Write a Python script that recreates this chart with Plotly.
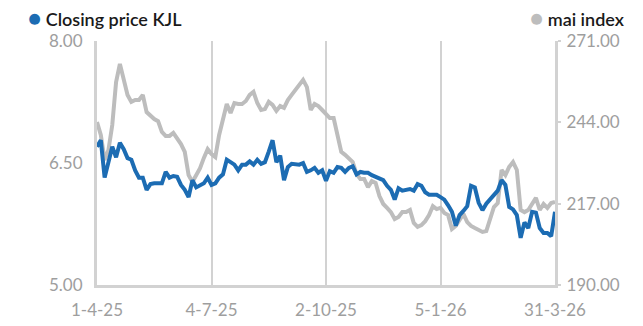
import plotly.graph_objects as go

tick_labels = ["1-4-25", "4-7-25", "2-10-25", "5-1-26", "31-3-26"]
tick_index = [0, 30, 60, 90, 120]

kjl_close = [
    6.70, 6.78, 6.32, 6.49, 6.70, 6.57, 6.75, 6.67, 6.56, 6.54,
    6.41, 6.32, 6.32, 6.17, 6.24, 6.25, 6.25, 6.25, 6.39, 6.32,
    6.34, 6.33, 6.23, 6.17, 6.08, 6.29, 6.20, 6.23, 6.25, 6.32,
    6.23, 6.25, 6.32, 6.36, 6.54, 6.51, 6.48, 6.41, 6.48, 6.48,
    6.52, 6.48, 6.54, 6.49, 6.51, 6.64, 6.78, 6.51, 6.59, 6.29,
    6.45, 6.49, 6.48, 6.48, 6.50, 6.39, 6.41, 6.44, 6.38, 6.41,
    6.28, 6.40, 6.38, 6.45, 6.44, 6.39, 6.44, 6.46, 6.36, 6.39,
    6.38, 6.38, 6.35, 6.33, 6.32, 6.29, 6.22, 6.17, 6.05, 6.19,
    6.16, 6.17, 6.18, 6.16, 6.24, 6.22, 6.14, 6.11, 6.11, 6.11,
    6.08, 6.05, 5.98, 5.90, 5.73, 5.86, 5.91, 5.97, 6.22, 6.20,
    6.01, 5.92, 6.00, 6.05, 6.11, 6.16, 6.29, 6.23, 5.96, 5.93,
    5.86, 5.58, 5.77, 5.70, 5.90, 5.89, 5.70, 5.64, 5.64, 5.60,
    5.90,
]

mai_index = [
    244.1, 239.8, 231.5, 234.8, 243.1, 257.4, 263.4, 258.1, 253.1, 250.8,
    251.4, 251.4, 253.1, 247.4, 246.1, 245.1, 244.4, 240.8, 239.5, 239.5,
    240.5, 238.8, 236.8, 234.2, 226.5, 224.2, 226.2, 228.8, 232.2, 235.1,
    233.5, 232.5, 239.8, 245.1, 250.1, 247.1, 250.4, 250.1, 250.1, 251.1,
    253.1, 254.1, 250.4, 248.1, 248.4, 250.8, 249.8, 247.8, 249.4, 248.8,
    251.4, 253.1, 254.7, 256.1, 258.1, 255.7, 248.1, 250.1, 249.4, 248.1,
    246.8, 245.4, 245.4, 239.8, 234.2, 233.2, 231.8, 230.8, 226.8, 225.2,
    225.2, 222.5, 224.5, 223.9, 219.5, 216.9, 215.6, 214.2, 211.9, 212.6,
    214.2, 214.2, 214.9, 210.6, 209.3, 209.9, 211.2, 213.2, 216.2, 215.2,
    215.6, 213.9, 213.2, 208.6, 209.6, 211.6, 213.6, 210.9, 209.6, 208.9,
    208.3, 207.6, 207.9, 211.6, 215.9, 217.2, 228.2, 226.5, 229.2, 230.8,
    228.2, 214.9, 214.2, 214.9, 217.2, 218.9, 214.9, 216.9, 215.6, 217.2,
    217.6,
]

x_idx = list(range(len(kjl_close)))

BLUE = "#1c6cb3"
GRAY = "#bdbdbd"
LABEL = "#9e9e9e"
AXIS = "#d2d2d2"
FONT = "Lato"

fig = go.Figure()
fig.add_trace(go.Scatter(x=x_idx, y=mai_index, mode="lines", name="mai index",
                         line=dict(color=GRAY, width=4), yaxis="y",
                         hoverinfo="skip"))
fig.add_trace(go.Scatter(x=x_idx, y=kjl_close, mode="lines", name="Closing price KJL",
                         line=dict(color=BLUE, width=4), yaxis="y2",
                         hoverinfo="skip"))

fig.update_layout(
    width=643, height=326,
    margin=dict(l=97, r=88, t=41, b=41, autoexpand=False),
    paper_bgcolor="white", plot_bgcolor="white",
    showlegend=False,
    font=dict(family=FONT, size=17, color=LABEL),
    xaxis=dict(
        range=[0, 120], tickvals=tick_index, ticktext=tick_labels,
        showgrid=True, gridcolor=AXIS, gridwidth=2,
        showline=True, linecolor=AXIS, linewidth=3,
        zeroline=False, ticks="", ticklabelstandoff=8, automargin=False,
        tickfont=dict(family=FONT, size=17, color=LABEL),
    ),
    yaxis=dict(
        side="right", range=[190, 271], tickvals=[190, 217, 244, 271],
        tickformat=".2f", showgrid=False, zeroline=False,
        showline=True, linecolor=AXIS, linewidth=3,
        ticks="outside", ticklen=3, tickcolor=AXIS, tickwidth=2,
        ticklabelstandoff=2, automargin=False,
        tickfont=dict(family=FONT, size=17, color=LABEL),
    ),
    yaxis2=dict(
        side="left", overlaying="y", range=[5, 8], tickvals=[5, 6.5, 8],
        tickformat=".2f", showgrid=False, zeroline=False,
        showline=True, linecolor=AXIS, linewidth=3,
        ticks="", ticklabelstandoff=8, automargin=False,
        tickfont=dict(family=FONT, size=17, color=LABEL),
    ),
    annotations=[
        dict(xref="paper", yref="paper", x=0, y=1.0, xshift=-97 + 26, yshift=24,
             xanchor="left", yanchor="middle", showarrow=False,
             text=f"<span style='color:{BLUE};font-size:22px'>●</span> Closing price KJL",
             font=dict(family=FONT, size=18, color="#1a1a1a", weight=600)),
        dict(xref="paper", yref="paper", x=1.0, y=1.0, xshift=88 - 16, yshift=24,
             xanchor="right", yanchor="middle", showarrow=False,
             text=f"<span style='color:{GRAY};font-size:22px'>●</span> mai index",
             font=dict(family=FONT, size=18, color="#1a1a1a", weight=600)),
    ],
)

fig.write_html("out.html")
